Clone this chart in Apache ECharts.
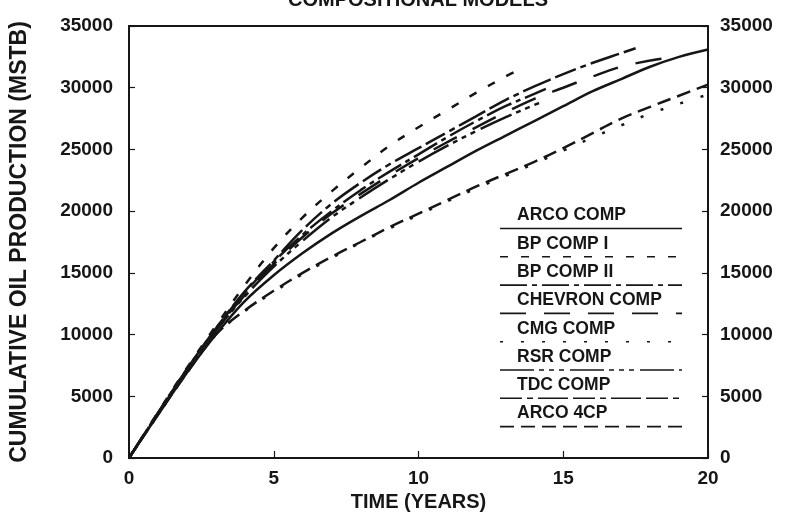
<!DOCTYPE html>
<html>
<head>
<meta charset="utf-8">
<script src="https://cdn.jsdelivr.net/npm/echarts@6/dist/echarts.min.js"></script>
<style>
  html, body { margin: 0; padding: 0; background: #fff; }
  #chart { width: 796px; height: 527px; }
</style>
</head>
<body>
<div id="chart"></div>
<script>
// Cumulative oil production (MSTB) versus time (years), compositional simulators
const seriesNames = ['ARCO COMP', 'BP COMP I', 'BP COMP II', 'CHEVRON COMP', 'CMG COMP', 'RSR COMP', 'TDC COMP', 'ARCO 4CP'];

const arcoComp = [[0,0],[1,3500],[2,6900],[3,10000],[4,12700],[5,14800],[6,16600],[7,18200],[8,19600],[9,20900],[10,22300],[11,23600],[12,24900],[13,26100],[14,27300],[15,28500],[16,29700],[17,30700],[18,31700],[19,32500],[20,33100]];
const bpComp1 = [[0,0],[1,3700],[2,7300],[3,10700],[4,14000],[5,17000],[6,19500],[7,21600],[8,23500],[9,25300],[10,26800],[11,28200],[12,29600],[13,30900],[13.6,31600]];
const bpComp2 = [[0,0],[1,3650],[2,7200],[3,10500],[4,13400],[5,15900],[6,18100],[7,20000],[8,21700],[9,23200],[10,24600],[11,26000],[12,27300],[13,28500],[14,29500],[14.4,29900]];
const chevronComp = [[0,0],[1,3600],[2,7100],[3,10400],[4,13200],[5,15700],[6,17900],[7,19800],[8,21400],[9,22900],[10,24300],[11,25600],[12,26800],[13,28000],[14,29100],[15,30000],[16,30900],[17,31700],[18,32200],[18.4,32350]];
const cmgComp = [[0,0],[1,3500],[2,6900],[3,10000],[4,11900],[5,13450],[6,14900],[7,16200],[8,17450],[9,18600],[10,19700],[11,20800],[12,21850],[13,22850],[14,23850],[15,24900],[16,25950],[17,26950],[18,27900],[19,28700],[20,29450]];
const rsrComp = [[0,0],[1,3600],[2,7100],[3,10300],[4,13100],[5,15500],[6,17600],[7,19500],[8,21100],[9,22600],[10,24000],[11,25300],[12,26500],[13,27600],[14,28600],[14.3,28900]];
const tdcComp = [[0,0],[1,3650],[2,7200],[3,10500],[4,13500],[5,16000],[6,18500],[7,20600],[8,22300],[9,23800],[10,25100],[11,26400],[12,27700],[13,29000],[14,30100],[15,31100],[16,32000],[17,32800],[17.5,33200]];
const arco4cp = [[0,0],[1,3500],[2,6900],[3,10000],[4,11950],[5,13550],[6,15000],[7,16300],[8,17500],[9,18700],[10,19800],[11,20900],[12,22000],[13,23000],[14,24000],[15,25100],[16,26300],[17,27500],[18,28450],[19,29350],[20,30250]];

const seriesData = [arcoComp, bpComp1, bpComp2, chevronComp, cmgComp, rsrComp, tdcComp, arco4cp];

const yTicks = [0, 5000, 10000, 15000, 20000, 25000, 30000, 35000];
const xTicks = [0, 5, 10, 15, 20];

// dash pattern for each model
const dashPatterns = [
  'solid',
  [8, 13],
  [27, 5, 5, 5],
  [26, 18],
  [3, 18],
  [34, 5, 5, 5, 5, 5, 5, 6],
  [22, 5, 6, 5, 30, 5],
  [14, 7]
];

const FONT = 'Liberation Sans';
const INK = '#161616';

const chart = echarts.init(document.getElementById('chart'), null, { renderer: 'canvas' });

const legendGraphics = [];
seriesNames.forEach((name, i) => {
  const rowY = 216.5 + i * 28.3;
  legendGraphics.push({
    type: 'text',
    left: 517,
    top: rowY - 10,
    style: { text: name, fill: INK, font: 'bold 17.5px "' + FONT + '"' }
  });
  legendGraphics.push({
    type: 'line',
    shape: { x1: 500, y1: rowY + 12, x2: 682, y2: rowY + 12 },
    style: {
      stroke: INK,
      lineWidth: 1.6,
      lineDash: dashPatterns[i] === 'solid' ? null : dashPatterns[i]
    }
  });
});

const axisLabelStyle = {
  color: INK, fontFamily: FONT, fontWeight: 'bold', fontSize: 19,
  formatter: (v) => String(v)
};

chart.setOption({
  animation: false,
  backgroundColor: '#fff',
  title: {
    text: 'COMPOSITIONAL MODELS',
    left: 283,
    top: -15,
    textStyle: { color: INK, fontFamily: FONT, fontWeight: 'bold', fontSize: 20 }
  },
  grid: { left: 127, right: 88, top: 26, bottom: 69, show: true, borderColor: INK, borderWidth: 2 },
  xAxis: {
    type: 'value', min: xTicks[0], max: xTicks[xTicks.length - 1], interval: 5,
    name: 'TIME (YEARS)', nameLocation: 'middle', nameGap: 30,
    nameTextStyle: { color: INK, fontFamily: FONT, fontWeight: 'bold', fontSize: 20 },
    axisLine: { lineStyle: { color: INK, width: 2 } },
    axisTick: { inside: true, length: 7, lineStyle: { color: INK, width: 1.2 } },
    axisLabel: Object.assign({}, axisLabelStyle, { margin: 11 }),
    splitLine: { show: false }
  },
  yAxis: [
    {
      type: 'value', min: yTicks[0], max: yTicks[yTicks.length - 1], interval: 5000,
      name: 'CUMULATIVE OIL PRODUCTION (MSTB)', nameLocation: 'middle', nameGap: 98, nameRotate: 90,
      nameTextStyle: { color: INK, fontFamily: FONT, fontWeight: 'bold', fontSize: 23 },
      axisLine: { show: true, lineStyle: { color: INK, width: 2 } },
      axisTick: { show: true, inside: true, length: 6, lineStyle: { color: INK, width: 1.2 } },
      axisLabel: Object.assign({}, axisLabelStyle, { margin: 16 }),
      splitLine: { show: false }
    },
    {
      type: 'value', position: 'right', min: yTicks[0], max: yTicks[yTicks.length - 1], interval: 5000,
      axisLine: { show: true, lineStyle: { color: INK, width: 2 } },
      axisTick: { show: true, inside: true, length: 6, lineStyle: { color: INK, width: 1.2 } },
      axisLabel: Object.assign({}, axisLabelStyle, { margin: 12 }),
      splitLine: { show: false }
    }
  ],
  series: seriesData.map((data, i) => ({
    name: seriesNames[i],
    type: 'line',
    data: data,
    smooth: 0.35,
    showSymbol: false,
    symbol: 'none',
    lineStyle: { color: INK, width: 2.5, type: dashPatterns[i] },
    z: 3
  })),
  graphic: legendGraphics
});
</script>
</body>
</html>
